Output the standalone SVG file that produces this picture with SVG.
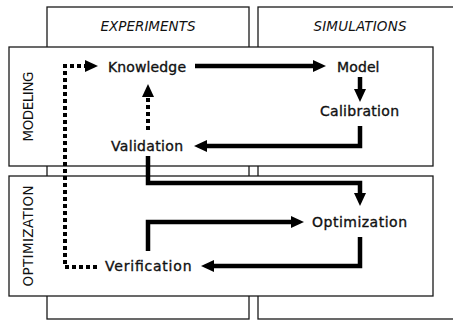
<svg xmlns="http://www.w3.org/2000/svg" width="453" height="321" viewBox="0 0 453 321">
<style>
.box{fill:#fff;stroke:#1a1a1a;stroke-width:1.3}
.lbl{font-family:"DejaVu Sans",Verdana,sans-serif;font-size:14px;fill:#111;stroke:#111;stroke-width:0.35}
.hdr{font-family:"DejaVu Sans",Verdana,sans-serif;font-size:13.5px;font-style:italic;fill:#111}
.side{font-family:"DejaVu Sans",Verdana,sans-serif;font-size:13.5px;fill:#111}
.solid{fill:none;stroke:#000;stroke-width:4.5;stroke-linejoin:miter}
.dot{fill:none;stroke:#000;stroke-width:4;stroke-dasharray:4 3}
</style>
<defs>
<marker id="ah" viewBox="0 0 13 12" refX="1" refY="6" markerWidth="13" markerHeight="12" markerUnits="userSpaceOnUse" orient="auto">
<path d="M0,0 L13,6 L0,12 z" fill="#000"/>
</marker>
</defs>
<g id="columns">
<g id="col-experiments">
<rect class="box" x="47" y="7" width="202" height="312"/>
<text class="hdr" x="148" y="31" text-anchor="middle" textLength="95">EXPERIMENTS</text>
</g>
<g id="col-simulations">
<rect class="box" x="258" y="7" width="210" height="312"/>
<text class="hdr" x="360" y="31" text-anchor="middle" textLength="93">SIMULATIONS</text>
</g>
</g>
<g id="rows">
<g id="row-modeling">
<rect class="box" x="9" y="47" width="424" height="119"/>
<text class="side" transform="translate(33,106.5) rotate(-90)" text-anchor="middle" textLength="70">MODELING</text>
</g>
<g id="row-optimization">
<rect class="box" x="9" y="176" width="424" height="120"/>
<text class="side" transform="translate(33,236) rotate(-90)" text-anchor="middle" textLength="101">OPTIMIZATION</text>
</g>
</g>
<g id="connectors">
<path class="dot" d="M97,267 H65 V66 H86" marker-end="url(#ah)"/>
<path class="dot" d="M148,130 V96" marker-end="url(#ah)"/>
<path class="solid" d="M195,66 H314" marker-end="url(#ah)"/>
<path class="solid" d="M360,77 V90" marker-end="url(#ah)"/>
<path class="solid" d="M360,126 V146 H206" marker-end="url(#ah)"/>
<path class="solid" d="M148,156 V183 H360 V194" marker-end="url(#ah)"/>
<path class="solid" d="M148,251 V222 H292" marker-end="url(#ah)"/>
<path class="solid" d="M360,237 V266 H213" marker-end="url(#ah)"/>
</g>
<g id="node-knowledge"><text class="lbl" x="108" y="72" textLength="78">Knowledge</text></g>
<g id="node-model"><text class="lbl" x="337" y="72" textLength="42.5">Model</text></g>
<g id="node-calibration"><text class="lbl" x="320" y="116" textLength="79">Calibration</text></g>
<g id="node-validation"><text class="lbl" x="111" y="151" textLength="72">Validation</text></g>
<g id="node-optimization"><text class="lbl" x="312" y="227" textLength="95">Optimization</text></g>
<g id="node-verification"><text class="lbl" x="105" y="271" textLength="86.5">Verification</text></g>
</svg>
